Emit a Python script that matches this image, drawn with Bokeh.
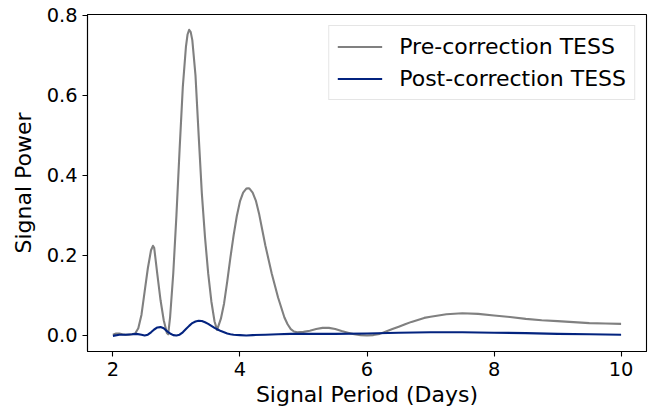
from bokeh.plotting import figure
from bokeh.models import FixedTicker, PrintfTickFormatter, Range1d
from bokeh.embed import file_html
from bokeh.resources import INLINE

# Periodogram of the TESS light curve before and after systematics correction
gray_period = [2.00, 2.05, 2.10, 2.15, 2.20, 2.25, 2.30, 2.35, 2.40, 2.45,
               2.50, 2.55, 2.60, 2.63, 2.65, 2.70, 2.75, 2.80, 2.85, 2.87,
               2.90, 2.95, 3.00, 3.05, 3.10, 3.15, 3.175, 3.20, 3.225, 3.25,
               3.30, 3.35, 3.40, 3.45, 3.50, 3.55, 3.60, 3.64, 3.70, 3.75,
               3.80, 3.85, 3.90, 3.95, 4.00, 4.05, 4.10, 4.13, 4.15, 4.20,
               4.25, 4.30, 4.35, 4.40, 4.45, 4.50, 4.55, 4.60, 4.65, 4.70,
               4.75, 4.80, 4.85, 4.90, 5.00, 5.10, 5.20, 5.30, 5.40, 5.50,
               5.60, 5.70, 5.80, 5.90, 6.00, 6.10, 6.20, 6.30, 6.40, 6.50,
               6.60, 6.70, 6.80, 6.90, 7.00, 7.25, 7.50, 7.75, 8.00, 8.25,
               8.50, 8.75, 9.00, 9.25, 9.50, 9.75, 10.00]
gray_power = [0.002, 0.005, 0.005, 0.003, 0.002, 0.002, 0.003, 0.005, 0.018, 0.052,
              0.110, 0.168, 0.213, 0.224, 0.219, 0.152, 0.088, 0.038, 0.006, 0.003,
              0.045, 0.155, 0.300, 0.465, 0.620, 0.722, 0.752, 0.764, 0.758, 0.738,
              0.650, 0.500, 0.355, 0.245, 0.155, 0.085, 0.035, 0.014, 0.042, 0.080,
              0.135, 0.195, 0.250, 0.298, 0.335, 0.357, 0.367, 0.368, 0.367, 0.357,
              0.337, 0.305, 0.265, 0.225, 0.190, 0.155, 0.125, 0.095, 0.070, 0.045,
              0.028, 0.016, 0.010, 0.008, 0.009, 0.012, 0.016, 0.019, 0.019, 0.016,
              0.011, 0.007, 0.003, 0.001, 0.000, 0.001, 0.004, 0.010, 0.016, 0.022,
              0.028, 0.034, 0.039, 0.044, 0.047, 0.053, 0.0555, 0.054, 0.050, 0.046,
              0.0415, 0.038, 0.036, 0.0335, 0.031, 0.030, 0.029]

blue_period = [2.00, 2.10, 2.20, 2.30, 2.37, 2.45, 2.50, 2.55, 2.60, 2.65,
               2.70, 2.75, 2.80, 2.85, 2.90, 2.95, 3.00, 3.05, 3.10, 3.15,
               3.20, 3.25, 3.30, 3.35, 3.40, 3.45, 3.50, 3.55, 3.60, 3.65,
               3.70, 3.75, 3.80, 3.85, 3.90, 4.00, 4.10, 4.20, 4.40, 4.60,
               4.80, 5.00, 5.50, 6.00, 6.50, 7.00, 7.50, 8.00, 8.50, 9.00,
               9.50, 10.00]
blue_power = [-0.001, 0.002, 0.002, 0.003, 0.004, 0.002, 0.000, 0.002, 0.008, 0.015,
              0.020, 0.021, 0.018, 0.011, 0.005, 0.001, 0.000, 0.002, 0.008, 0.016,
              0.024, 0.031, 0.035, 0.037, 0.036, 0.033, 0.029, 0.024, 0.019, 0.015,
              0.011, 0.008, 0.005, 0.003, 0.002, 0.001, 0.000, 0.001, 0.002, 0.003,
              0.004, 0.004, 0.004, 0.005, 0.007, 0.008, 0.008, 0.007, 0.006, 0.004,
              0.003, 0.002]

x_ticks = [2, 4, 6, 8, 10]
y_ticks = [0.0, 0.2, 0.4, 0.6, 0.8]

FONT = "DejaVu Sans"

p = figure(width=659, height=412,
           x_range=Range1d(1.6, 10.4), y_range=Range1d(-0.040, 0.802),
           output_backend="svg", toolbar_location=None,
           min_border_left=87, min_border_right=13,
           min_border_top=14, min_border_bottom=61)

p.line(gray_period, gray_power, line_color="#808080", line_width=2.1,
       line_join="round", legend_label="Pre-correction TESS")
p.line(blue_period, blue_power, line_color="#03237f", line_width=2.1,
       line_join="round", legend_label="Post-correction TESS")

p.xgrid.visible = False
p.ygrid.visible = False
p.outline_line_color = "black"
p.outline_line_width = 1.1
p.background_fill_color = "white"
p.border_fill_color = "white"

p.xaxis.ticker = FixedTicker(ticks=x_ticks)
p.yaxis.ticker = FixedTicker(ticks=y_ticks)
p.yaxis.formatter = PrintfTickFormatter(format="%.1f")

for ax in (p.xaxis[0], p.yaxis[0]):
    ax.major_label_text_font = FONT
    ax.major_label_text_font_size = "19.4px"
    ax.major_label_text_color = "black"
    ax.axis_label_text_font = FONT
    ax.axis_label_text_font_size = "22px"
    ax.axis_label_text_font_style = "normal"
    ax.axis_label_text_color = "black"
    ax.major_tick_out = 5
    ax.major_tick_in = 0
    ax.minor_tick_out = 0
    ax.minor_tick_in = 0
    ax.major_tick_line_width = 1.1
    ax.major_tick_line_color = "black"
    ax.axis_line_width = 1.1
    ax.axis_line_color = "black"
    ax.major_label_standoff = 5

p.xaxis.axis_label = "Signal Period (Days)"
p.xaxis.axis_label_standoff = 3
p.yaxis.axis_label = "Signal Power"
p.yaxis.axis_label_standoff = 8

leg = p.legend[0]
leg.location = "top_right"
leg.margin = 11
leg.padding = 8
leg.spacing = 7
leg.glyph_width = 45
leg.glyph_height = 25
leg.label_height = 25
leg.label_standoff = 17
leg.label_text_font = FONT
leg.label_text_font_size = "22px"
leg.label_text_color = "black"
leg.border_line_color = "#cccccc"
leg.border_line_width = 1
leg.background_fill_alpha = 0.8

open("out.html", "w").write(file_html(p, INLINE))
